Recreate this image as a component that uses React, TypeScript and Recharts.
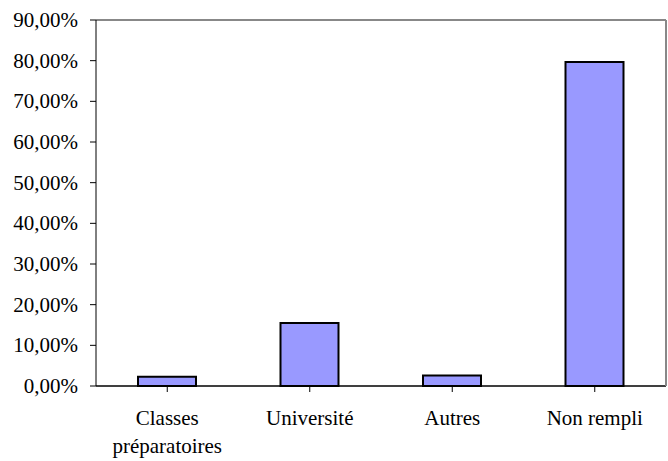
import { BarChart, Bar, XAxis, YAxis, CartesianGrid, ReferenceLine } from "recharts";

const categories = ["Classes préparatoires", "Université", "Autres", "Non rempli"];
const shares = [2.3, 15.5, 2.6, 79.7];
const yTicks = [0, 10, 20, 30, 40, 50, 60, 70, 80, 90];

const data = categories.map((name, i) => ({ name, share: shares[i] }));

const FONT = "Liberation Serif";

const fmtPct = (v: number) => v.toFixed(2).replace(".", ",") + "%";

interface TickProps {
  x?: number;
  y?: number;
  payload?: { value: string | number };
}

function CategoryTick({ x = 0, y = 0, payload }: TickProps) {
  const label = String(payload?.value ?? "");
  const lines = label.length > 12 ? label.split(" ") : [label];
  return (
    <text x={x} y={y} textAnchor="middle" fill="#000" style={{ fontFamily: FONT, fontSize: 21 }}>
      {lines.map((ln, i) => (
        <tspan key={i} x={x} dy={i === 0 ? 31 : 28}>
          {ln}
        </tspan>
      ))}
    </text>
  );
}

function ValueTick({ x = 0, y = 0, payload }: TickProps) {
  return (
    <text x={x} y={y} dy={7} textAnchor="end" fill="#000" style={{ fontFamily: FONT, fontSize: 21 }}>
      {fmtPct(Number(payload?.value ?? 0))}
    </text>
  );
}

export default function App() {
  return (
    <div style={{ position: "absolute", left: 0, top: 0, background: "#fff" }}>
      <BarChart
        width={668}
        height={461}
        data={data}
        margin={{ top: 20, right: 0, bottom: 0, left: 0 }}
      >
        <CartesianGrid stroke="#000" vertical={false} />
        <XAxis
          dataKey="name"
          height={75}
          axisLine={{ stroke: "#000" }}
          tickLine={{ stroke: "#000" }}
          tickSize={6}
          interval={0}
          tick={<CategoryTick />}
        />
        <YAxis
          yAxisId="left"
          width={96}
          domain={[0, 90]}
          ticks={yTicks}
          axisLine={{ stroke: "#000" }}
          tickLine={{ stroke: "#000" }}
          tickSize={6}
          tickMargin={12}
          tick={<ValueTick />}
        />
        <YAxis
          yAxisId="right"
          orientation="right"
          width={2}
          domain={[0, 90]}
          tick={false}
          tickLine={false}
          axisLine={{ stroke: "#888", strokeWidth: 2 }}
        />
        <ReferenceLine yAxisId="left" y={90} stroke="#888" strokeWidth={2} />
        <Bar
          yAxisId="left"
          dataKey="share"
          fill="#9999FF"
          stroke="#000"
          strokeWidth={2}
          barSize={58}
          isAnimationActive={false}
        />
      </BarChart>
    </div>
  );
}
